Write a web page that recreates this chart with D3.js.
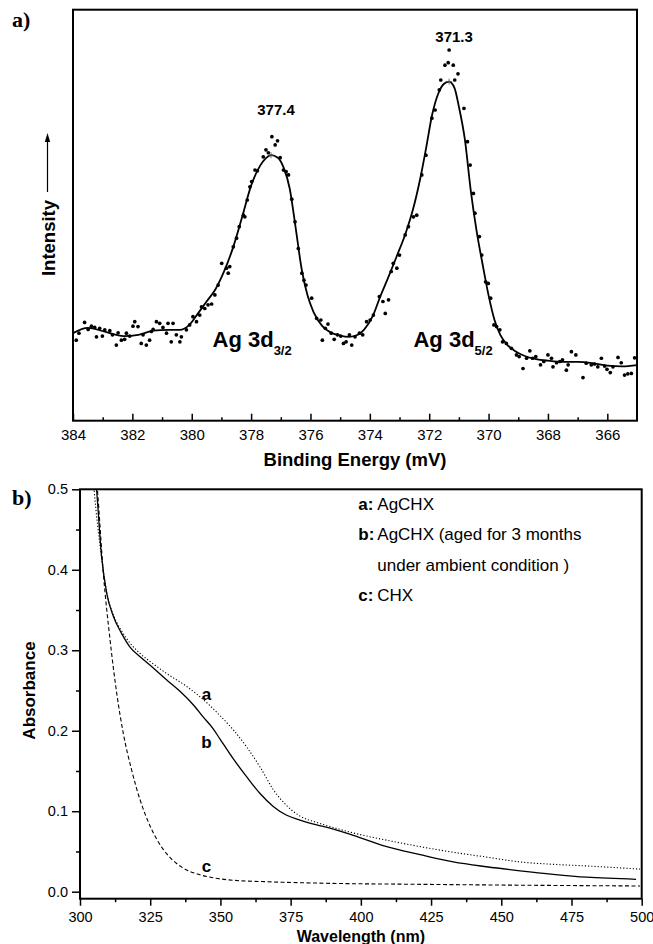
<!DOCTYPE html>
<html>
<head>
<meta charset="utf-8">
<script src="https://cdn.jsdelivr.net/npm/d3@7"></script>
<style>
  body { margin: 0; background: #fff; }
  svg { display: block; font-family: "Liberation Sans", Arial, sans-serif; }
</style>
</head>
<body>
<svg id="chart"></svg>
<script>
const width = 653
const height = 944

// panel a: XPS, binding energy (eV shown as mV on the axis) vs intensity (arb.)
const xpsTicks = [384, 382, 380, 378, 376, 374, 372, 370, 368, 366]
const xpsMinor = [383, 381, 379, 377, 375, 373, 371, 369, 367]

const xpsFit = [
  [384.0, 21.3], [383.5, 22.6], [382.9, 21.6], [382.3, 20.6], [381.8, 20.9],
  [381.3, 21.9], [380.8, 22.1], [380.4, 22.1], [380.1, 23.2], [379.8, 26.0],
  [379.5, 29.0], [379.2, 32.0], [378.9, 36.5], [378.6, 42.3], [378.3, 49.6],
  [378.0, 57.2], [377.7, 62.0], [377.5, 63.9], [377.33, 64.6], [377.1, 64.0],
  [376.9, 61.5], [376.7, 56.5], [376.5, 47.0], [376.3, 37.0], [376.1, 30.5],
  [375.9, 26.5], [375.6, 23.0], [375.3, 21.4], [375.0, 20.7], [374.7, 20.4],
  [374.4, 20.9], [374.2, 22.1], [373.9, 25.5], [373.65, 30.2], [373.4, 34.5],
  [373.1, 39.9], [372.8, 45.5], [372.55, 51.3], [372.3, 59.0], [372.1, 66.5],
  [371.9, 74.5], [371.7, 79.5], [371.5, 82.0], [371.33, 82.5], [371.15, 81.0],
  [371.0, 76.4], [370.8, 68.5], [370.6, 56.0], [370.4, 46.0], [370.2, 38.0],
  [370.0, 30.5], [369.8, 24.5], [369.6, 20.8], [369.4, 18.7], [369.1, 16.9],
  [368.8, 15.8], [368.4, 15.0], [368.0, 14.6], [367.5, 14.3], [367.0, 14.3],
  [366.5, 14.0], [366.0, 13.4], [365.5, 13.2], [365.0, 13.5]
]

const xpsDots = [
  [383.89, 19.6], [383.80, 21.3], [383.61, 23.9], [383.49, 22.2], [383.38, 23.0],
  [383.27, 22.7], [383.21, 20.4], [383.10, 22.5], [383.01, 20.6], [382.93, 22.1],
  [382.76, 21.9], [382.67, 20.9], [382.54, 18.4], [382.48, 21.4], [382.37, 19.6],
  [382.26, 19.8], [382.20, 21.3], [382.09, 20.6], [381.98, 23.0], [381.92, 24.1],
  [381.81, 22.9], [381.70, 18.8], [381.64, 20.9], [381.53, 18.4], [381.42, 19.6],
  [381.36, 21.7], [381.30, 22.2], [381.19, 24.1], [381.08, 23.7], [380.97, 22.7],
  [380.85, 21.3], [380.80, 23.7], [380.69, 19.2], [380.63, 23.7], [380.52, 20.9],
  [380.40, 19.2], [380.35, 20.4], [380.18, 22.1], [380.07, 23.3], [379.96, 25.3],
  [379.84, 24.1], [379.73, 25.7], [379.67, 27.7], [379.56, 27.3], [379.45, 28.2],
  [379.33, 28.4], [379.22, 30.6], [379.11, 33.0], [378.99, 38.3], [378.83, 37.1],
  [378.77, 35.9], [378.72, 37.5], [378.60, 42.3], [378.49, 44.4], [378.40, 47.2],
  [378.26, 50.0], [378.21, 49.6], [378.13, 53.7], [378.04, 56.9], [377.98, 58.2],
  [377.87, 61.0], [377.79, 60.8], [377.59, 64.2], [377.50, 65.9], [377.42, 65.2],
  [377.30, 69.1], [377.19, 67.1], [377.11, 68.1], [377.02, 64.0], [376.91, 61.0],
  [376.82, 60.6], [376.74, 59.8], [376.63, 53.9], [376.52, 48.4], [376.41, 41.9],
  [376.29, 35.9], [376.22, 34.2], [376.15, 33.0], [375.96, 29.8], [375.79, 24.9],
  [375.65, 24.5], [375.60, 19.6], [375.50, 22.5], [375.41, 23.5], [375.30, 21.3],
  [375.20, 19.8], [375.09, 20.9], [374.98, 20.6], [374.89, 18.8], [374.80, 19.2],
  [374.69, 20.9], [374.61, 18.4], [374.50, 20.4], [374.35, 21.3], [374.24, 20.9],
  [374.11, 24.1], [373.99, 24.5], [373.88, 25.7], [373.68, 30.2], [373.56, 29.0],
  [373.48, 26.1], [373.37, 29.4], [373.28, 36.3], [373.21, 38.3], [373.09, 37.1],
  [373.00, 40.3], [372.81, 45.2], [372.70, 47.2], [372.53, 49.6], [372.42, 50.0],
  [372.25, 59.8], [372.11, 64.6], [371.91, 73.6], [371.80, 75.6], [371.66, 80.5],
  [371.61, 82.9], [371.47, 86.5], [371.36, 87.1], [371.33, 90.2], [371.19, 86.5],
  [371.14, 82.9], [371.03, 84.4], [370.83, 76.0], [370.71, 67.9], [370.62, 62.2],
  [370.51, 55.3], [370.46, 50.5], [370.31, 44.8], [370.23, 40.3], [370.10, 33.8],
  [370.01, 33.4], [369.93, 29.8], [369.82, 23.3], [369.73, 22.9], [369.62, 22.1],
  [369.53, 19.2], [369.40, 18.8], [369.23, 17.6], [369.06, 16.0], [368.97, 15.6],
  [368.84, 12.7], [368.72, 15.2], [368.61, 17.0], [368.52, 15.2], [368.41, 15.6],
  [368.25, 13.6], [368.14, 14.4], [368.00, 16.0], [367.88, 15.2], [367.83, 13.1],
  [367.71, 14.1], [367.60, 14.4], [367.51, 14.8], [367.38, 12.3], [367.32, 13.6],
  [367.21, 16.8], [367.06, 16.0], [366.82, 10.5], [366.71, 14.0], [366.54, 13.6],
  [366.43, 13.8], [366.32, 13.1], [366.20, 15.2], [366.09, 13.3], [366.01, 12.5],
  [365.90, 11.7], [365.81, 13.1], [365.64, 15.4], [365.53, 14.1], [365.42, 11.1],
  [365.31, 11.4], [365.19, 11.5], [365.08, 15.3]
]

// peak position on the fit, and the value printed above it
const xpsPeaks = [[377.33, 64.6, '377.4'], [371.33, 82.5, '371.3']]
const xpsNames = [[379.3, 18, 'Ag 3d', '3/2'], [372.53, 18, 'Ag 3d', '5/2']]

// panel b: UV-vis absorbance
const uvXTicks = [300, 325, 350, 375, 400, 425, 450, 475, 500]
const uvXMinor = [312.5, 337.5, 362.5, 387.5, 412.5, 437.5, 462.5, 487.5]
const uvYTicks = [0.0, 0.1, 0.2, 0.3, 0.4, 0.5]
const uvYMinor = [0.05, 0.15, 0.25, 0.35, 0.45]

const curveA = [
  [304.3, 0.53], [305.0, 0.5], [307.5, 0.42], [309.5, 0.372], [311.9, 0.344],
  [314.8, 0.324], [317.8, 0.309], [321.4, 0.296], [326.1, 0.283], [330.9, 0.271],
  [338.0, 0.255], [345.1, 0.235], [349.8, 0.219], [354.6, 0.201], [359.3, 0.180],
  [364.1, 0.155], [368.8, 0.127], [373.6, 0.107], [378.3, 0.094], [384.3, 0.086],
  [389.0, 0.081], [397.3, 0.073], [409.2, 0.064], [421.1, 0.056], [432.9, 0.049],
  [444.8, 0.043], [456.7, 0.037], [468.5, 0.034], [480.4, 0.032], [499.4, 0.028]
]
const curveB = [
  [305.2, 0.53], [305.9, 0.5], [307.7, 0.416], [309.5, 0.371], [311.9, 0.342],
  [314.8, 0.321], [317.8, 0.304], [321.4, 0.292], [326.1, 0.278], [330.9, 0.263],
  [335.6, 0.249], [340.4, 0.232], [343.9, 0.217], [347.5, 0.202], [349.8, 0.190],
  [354.6, 0.165], [359.3, 0.143], [364.1, 0.122], [368.8, 0.106], [373.6, 0.095],
  [378.3, 0.089], [384.3, 0.083], [389.0, 0.079], [397.3, 0.070], [409.2, 0.056],
  [421.1, 0.046], [432.9, 0.037], [444.8, 0.031], [456.7, 0.026], [468.5, 0.0216],
  [480.4, 0.018], [498.0, 0.0154]
]
const curveC = [
  [305.5, 0.53], [306.2, 0.5], [308.3, 0.396], [310.7, 0.313], [313.1, 0.246],
  [315.4, 0.197], [318.4, 0.151], [321.4, 0.114], [324.9, 0.082], [327.5, 0.064],
  [330.9, 0.047], [334.4, 0.035], [338.0, 0.027], [342.7, 0.021], [347.5, 0.0172],
  [354.6, 0.0142], [366.5, 0.0124], [389.0, 0.0104], [420.0, 0.0092], [460.0, 0.0080],
  [499.4, 0.0071]
]
const curveLabels = [['a', 345.0, 0.238], ['b', 345.0, 0.178], ['c', 345.0, 0.025]]
const legendRows = [['a:', 'AgCHX'], ['b:', 'AgCHX (aged for 3 months'], ['', 'under ambient condition )'], ['c:', 'CHX']]

const svg = d3.select('#chart').attr('width', width).attr('height', height)

drawXps()
drawUv()

function drawXps() {
  const x = d3.scaleLinear().domain([384, 365]).range([73, 637])
  const y = d3.scaleLinear().domain([0, 100]).range([420.7, 9.7])
  const g = svg.append('g')

  g.append('g')
    .attr('transform', 'translate(0,420.7)')
    .call(d3.axisBottom(x).tickValues(xpsMinor).tickSize(-3.5).tickFormat(''))
    .call(a => a.select('.domain').remove())
    .selectAll('line').attr('stroke-width', 1.5)

  const ax = g.append('g')
    .attr('transform', 'translate(0,420.7)')
    .call(d3.axisBottom(x).tickValues(xpsTicks).tickSize(-7).tickPadding(9))
  ax.select('.domain').remove()
  ax.selectAll('line').attr('stroke-width', 1.5)
  ax.selectAll('text').attr('font-size', 15).attr('font-family', '"Liberation Sans", Arial, sans-serif').attr('fill', '#000')

  g.append('rect')
    .attr('x', x(384)).attr('y', y(100))
    .attr('width', x(365) - x(384)).attr('height', y(0) - y(100))
    .attr('fill', 'none').attr('stroke', '#000').attr('stroke-width', 2)

  const line = d3.line().x(d => x(d[0])).y(d => y(d[1])).curve(d3.curveMonotoneX)
  g.append('path')
    .datum(xpsFit)
    .attr('d', line)
    .attr('fill', 'none').attr('stroke', '#000').attr('stroke-width', 1.8)

  g.selectAll('.dot')
    .data(xpsDots)
    .enter().append('circle')
    .attr('class', 'dot')
    .attr('cx', d => x(d[0]))
    .attr('cy', d => y(d[1]))
    .attr('r', 1.85)
    .attr('fill', '#000')

  // little crosses marking the fitted peak maxima
  g.selectAll('.peakmark')
    .data(xpsPeaks)
    .enter().append('path')
    .attr('class', 'peakmark')
    .attr('d', d => `M${x(d[0]) - 3},${y(d[1])}h6M${x(d[0])},${y(d[1]) - 3}v6`)
    .attr('stroke', '#555').attr('stroke-width', 0.8)

  g.selectAll('.peaklabel')
    .data(xpsPeaks)
    .enter().append('text')
    .attr('class', 'peaklabel')
    .attr('x', d => x(d[0]) + 5)
    .attr('y', d => y(d[1]) - 40)
    .attr('text-anchor', 'middle')
    .attr('font-size', 15).attr('font-weight', 'bold')
    .text(d => d[2])

  const names = g.selectAll('.name')
    .data(xpsNames)
    .enter().append('text')
    .attr('class', 'name')
    .attr('x', d => x(d[0]))
    .attr('y', d => y(d[1]))
    .attr('font-size', 22).attr('font-weight', 'bold')
  names.append('tspan').text(d => d[2])
  names.append('tspan').attr('dy', 8).attr('font-size', 13).text(d => d[3])

  g.append('text')
    .attr('x', (x(384) + x(365)) / 2).attr('y', 466)
    .attr('text-anchor', 'middle')
    .attr('font-size', 18.5).attr('font-weight', 'bold')
    .text('Binding Energy (mV)')

  g.append('text')
    .attr('transform', 'translate(54.5,238) rotate(-90)')
    .attr('text-anchor', 'middle')
    .attr('font-size', 18.5).attr('font-weight', 'bold')
    .text('Intensity')

  // arrow next to the intensity label
  g.append('line')
    .attr('x1', 47.5).attr('x2', 47.5).attr('y1', 192).attr('y2', 140)
    .attr('stroke', '#000').attr('stroke-width', 1.2)
  g.append('path')
    .attr('d', 'M47.5,133 L44.8,142 L50.2,142 Z')
    .attr('fill', '#000')

  g.append('text')
    .attr('x', 12).attr('y', 27)
    .attr('font-family', '"Liberation Serif", "Times New Roman", serif')
    .attr('font-size', 22).attr('font-weight', 'bold')
    .text('a)')
}

function drawUv() {
  const x = d3.scaleLinear().domain([300, 500]).range([80, 641.7])
  const y = d3.scaleLinear().domain([0, 0.5]).range([891.7, 489.3])
  const bottom = 898.7
  const g = svg.append('g')

  g.append('clipPath').attr('id', 'uvclip')
    .append('rect')
    .attr('x', x(300)).attr('y', y(0.5))
    .attr('width', x(500) - x(300)).attr('height', bottom - y(0.5))

  const minorX = g.append('g')
    .attr('transform', `translate(0,${bottom})`)
    .call(d3.axisBottom(x).tickValues(uvXMinor).tickSize(3.5).tickFormat(''))
  minorX.select('.domain').remove()
  minorX.selectAll('line').attr('stroke-width', 1.5)

  const ax = g.append('g')
    .attr('transform', `translate(0,${bottom})`)
    .call(d3.axisBottom(x).tickValues(uvXTicks).tickSize(7).tickPadding(6))
  ax.select('.domain').remove()
  ax.selectAll('line').attr('stroke-width', 1.5)
  ax.selectAll('text').attr('font-size', 14.5).attr('font-family', '"Liberation Sans", Arial, sans-serif').attr('fill', '#000')

  const minorY = g.append('g')
    .attr('transform', `translate(${x(300)},0)`)
    .call(d3.axisLeft(y).tickValues(uvYMinor).tickSize(4).tickFormat(''))
  minorY.select('.domain').remove()
  minorY.selectAll('line').attr('stroke-width', 1.5)

  const ay = g.append('g')
    .attr('transform', `translate(${x(300)},0)`)
    .call(d3.axisLeft(y).tickValues(uvYTicks).tickSize(8).tickPadding(4).tickFormat(d3.format('.1f')))
  ay.select('.domain').remove()
  ay.selectAll('line').attr('stroke-width', 1.5)
  ay.selectAll('text').attr('font-size', 14.5).attr('font-family', '"Liberation Sans", Arial, sans-serif').attr('fill', '#000')

  g.append('rect')
    .attr('x', x(300)).attr('y', y(0.5))
    .attr('width', x(500) - x(300)).attr('height', bottom - y(0.5))
    .attr('fill', 'none').attr('stroke', '#000').attr('stroke-width', 2)

  const line = d3.line().x(d => x(d[0])).y(d => y(d[1])).curve(d3.curveMonotoneX)
  const curves = g.append('g').attr('clip-path', 'url(#uvclip)')
  curves.append('path').datum(curveA).attr('d', line)
    .attr('fill', 'none').attr('stroke', '#000').attr('stroke-width', 1.1)
    .attr('stroke-dasharray', '1.2,2')
  curves.append('path').datum(curveB).attr('d', line)
    .attr('fill', 'none').attr('stroke', '#000').attr('stroke-width', 1.3)
  curves.append('path').datum(curveC).attr('d', line)
    .attr('fill', 'none').attr('stroke', '#000').attr('stroke-width', 1.1)
    .attr('stroke-dasharray', '4,2.5')

  g.selectAll('.clabel')
    .data(curveLabels)
    .enter().append('text')
    .attr('class', 'clabel')
    .attr('x', d => x(d[1]))
    .attr('y', d => y(d[2]))
    .attr('text-anchor', 'middle')
    .attr('font-size', 17).attr('font-weight', 'bold')
    .text(d => d[0])

  const rows = g.selectAll('.legend')
    .data(legendRows)
    .enter().append('text')
    .attr('class', 'legend')
    .attr('x', 358.3)
    .attr('y', (d, i) => 510 + i * 30.3)
    .attr('font-size', 17)
  rows.append('tspan').attr('font-weight', 'bold').text(d => d[0])
  rows.append('tspan').attr('x', 377.3).text(d => d[1])

  g.append('text')
    .attr('x', (x(300) + x(500)) / 2).attr('y', 941.5)
    .attr('text-anchor', 'middle')
    .attr('font-size', 16).attr('font-weight', 'bold')
    .text('Wavelength (nm)')

  g.append('text')
    .attr('transform', `translate(35,${(y(0) + y(0.5)) / 2}) rotate(-90)`)
    .attr('text-anchor', 'middle')
    .attr('font-size', 17).attr('font-weight', 'bold')
    .text('Absorbance')

  g.append('text')
    .attr('x', 12).attr('y', 505)
    .attr('font-family', '"Liberation Serif", "Times New Roman", serif')
    .attr('font-size', 22).attr('font-weight', 'bold')
    .text('b)')
}
</script>
</body>
</html>
